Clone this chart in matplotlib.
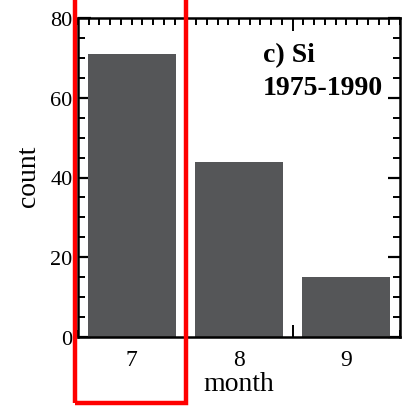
import matplotlib
matplotlib.use("Agg")
import matplotlib.pyplot as plt
from matplotlib.ticker import MultipleLocator, FixedLocator, NullFormatter
from matplotlib.patches import Rectangle

months = [7, 8, 9]
counts = [71, 44, 15]
month_labels = ["7", "8", "9"]

plt.rcParams["font.family"] = ["Liberation Serif", "DejaVu Serif"]

W, H = 412, 410
fig = plt.figure(figsize=(W / 100, H / 100), dpi=100)
ax = fig.add_axes([78 / W, 1 - 338 / H, 322 / W, 319 / H])

ax.bar(months, counts, width=0.82, color="#555658", zorder=2)

ax.set_xlim(6.5, 9.5)
ax.set_ylim(0, 80)

for s in ax.spines.values():
    s.set_linewidth(1.8)
    s.set_zorder(3)

# y axis: majors every 20, minors every 5, ticks inward on both sides
ax.yaxis.set_major_locator(MultipleLocator(20))
ax.yaxis.set_minor_locator(MultipleLocator(5))
ax.tick_params(axis="y", which="major", direction="in", length=9, width=1.6,
               left=True, right=True, labelsize=16, pad=4)
ax.tick_params(axis="y", which="minor", direction="in", length=5, width=1.4,
               left=True, right=True)

# x axis: unlabeled separators between months, fine minors every 0.1
ax.xaxis.set_major_locator(FixedLocator([7.5, 8.5]))
ax.xaxis.set_major_formatter(NullFormatter())
ax.xaxis.set_minor_locator(MultipleLocator(0.1))
ax.tick_params(axis="x", which="major", direction="in", length=9, width=1.4,
               bottom=True, top=True)
ax.tick_params(axis="x", which="minor", direction="in", length=5, width=1.4,
               bottom=True, top=True)

# month labels centred under each bar
for m, lab in zip(months, month_labels):
    x_fig = fig.transFigure.inverted().transform(ax.transData.transform((m, 0)))[0]
    fig.text(x_fig, 1 - 366 / H, lab, ha="center", va="baseline", fontsize=17)

fig.text(239 / W, 1 - 391 / H, "month", ha="center", va="baseline", fontsize=20)
fig.text(28 / W, 1 - 176 / H, "count", ha="center", va="center",
         rotation=90, fontsize=20)

fig.text(263 / W, 1 - 62 / H, "c) Si", ha="left", va="baseline",
         fontsize=20, fontweight="bold")
fig.text(263 / W, 1 - 95 / H, "1975-1990", ha="left", va="baseline",
         fontsize=20, fontweight="bold")

# highlight frame around the July column
fig.patches.append(Rectangle((75 / W, 1 - 404 / H), 111 / W, 420 / H,
                             transform=fig.transFigure, fill=False,
                             edgecolor="#ff0000", linewidth=3.2, zorder=10))

fig.savefig("out.png", dpi=100)
